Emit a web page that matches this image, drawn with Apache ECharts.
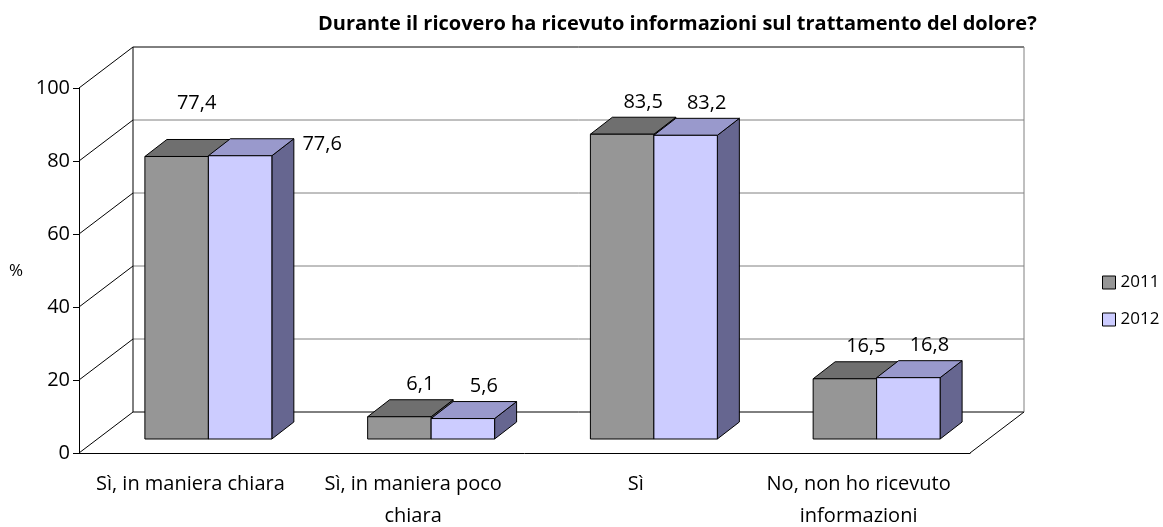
<!DOCTYPE html>
<html>
<head>
<meta charset="utf-8">
<script src="https://cdn.jsdelivr.net/npm/echarts@6/dist/echarts.min.js"></script>
<style>
  html, body { margin: 0; padding: 0; background: #fff; }
  #main { width: 1163px; height: 527px; }
</style>
</head>
<body>
<div id="main"></div>
<script>
// dati del grafico
var categories = ['Sì, in maniera chiara', 'Sì, in maniera poco\nchiara', 'Sì', 'No, non ho ricevuto\ninformazioni'];
var years = ['2011', '2012'];
var values2011 = [77.4, 6.1, 83.5, 16.5];
var values2012 = [77.6, 5.6, 83.2, 16.8];
var yTicks = [0, 20, 40, 60, 80, 100];

// prospettiva 3D (pixel)
var WALL_DX = 54, WALL_DY = 41;     // profondita' della parete di fondo
var FRONT_DX = 18, FRONT_DY = 14;   // faccia anteriore delle barre
var DEPTH_DX = 22, DEPTH_DY = 17;   // spessore delle barre
var BAR_FRAC = 0.285;
var FONT = '"Open Sans", "DejaVu Sans", sans-serif';

var colors = [
    { front: '#969696', top: '#6f6f6f', side: '#5a5a5a' },
    { front: '#ccccff', top: '#9999cc', side: '#666690' }
];
// spostamenti delle etichette come nel grafico Excel
var labelNudge = { '0-0': [9, -36], '1-0': [71, 6] };

var myChart = echarts.init(document.getElementById('main'));

function toPairs(arr) {
    return arr.map(function (v, i) { return [i, v]; });
}

function renderBar(params, api) {
    var s = params.seriesIndex;
    var cat = api.value(0), v = api.value(1);
    var base = api.coord([cat, 0]);
    var top = api.coord([cat, v]);
    var bw = api.size([1, 0])[0] * BAR_FRAC;
    var x0 = base[0] - bw + s * bw + FRONT_DX;
    var x1 = x0 + bw;
    var yb = base[1] - FRONT_DY;
    var yt = top[1] - FRONT_DY;
    var c = colors[s];
    var line = { stroke: '#000', lineWidth: 1 };
    var nudge = labelNudge[s + '-' + params.dataIndex];
    var lx = (x0 + x1) / 2 + DEPTH_DX / 2 + 10;
    var ly = yt - DEPTH_DY - 15;
    if (nudge) {
        lx = (x0 + x1) / 2 + DEPTH_DX / 2 + nudge[0];
        ly = yt - DEPTH_DY + nudge[1];
    }
    return {
        type: 'group',
        children: [{
            type: 'polygon',
            shape: { points: [[x1, yb], [x1 + DEPTH_DX, yb - DEPTH_DY], [x1 + DEPTH_DX, yt - DEPTH_DY], [x1, yt]] },
            style: Object.assign({ fill: c.side }, line)
        }, {
            type: 'polygon',
            shape: { points: [[x0, yt], [x1, yt], [x1 + DEPTH_DX, yt - DEPTH_DY], [x0 + DEPTH_DX, yt - DEPTH_DY]] },
            style: Object.assign({ fill: c.top }, line)
        }, {
            type: 'rect',
            shape: { x: x0, y: yt, width: bw, height: yb - yt },
            style: Object.assign({ fill: c.front }, line)
        }, {
            type: 'text',
            style: {
                text: String(v).replace('.', ','),
                x: lx, y: ly,
                align: 'center', verticalAlign: 'middle',
                fill: '#000', fontSize: 20, fontFamily: FONT
            }
        }]
    };
}

function renderWalls(params, api) {
    var cs = params.coordSys;
    var L = cs.x, R = cs.x + cs.width, B = cs.y + cs.height;
    var kids = [];
    yTicks.forEach(function (t) {
        var y = api.coord([0, t])[1];
        // linea della parete di fondo
        kids.push({
            type: 'line',
            shape: { x1: L + WALL_DX, y1: y - WALL_DY, x2: R + WALL_DX, y2: y - WALL_DY },
            style: { stroke: (t === 0 || t === 100) ? '#000' : '#808080', lineWidth: 1 }
        });
        // diagonale della parete sinistra
        kids.push({
            type: 'line',
            shape: { x1: L, y1: y, x2: L + WALL_DX, y2: y - WALL_DY },
            style: { stroke: '#000', lineWidth: 1 }
        });
    });
    var yTop = api.coord([0, yTicks[yTicks.length - 1]])[1];
    kids.push({
        type: 'line',
        shape: { x1: L + WALL_DX, y1: yTop - WALL_DY, x2: L + WALL_DX, y2: B - WALL_DY },
        style: { stroke: '#000', lineWidth: 1 }
    });
    kids.push({
        type: 'line',
        shape: { x1: R + WALL_DX, y1: yTop - WALL_DY, x2: R + WALL_DX, y2: B - WALL_DY },
        style: { stroke: '#808080', lineWidth: 1 }
    });
    kids.push({
        type: 'line',
        shape: { x1: R, y1: B, x2: R + WALL_DX, y2: B - WALL_DY },
        style: { stroke: '#000', lineWidth: 1 }
    });
    return { type: 'group', children: kids };
}

option = {
    backgroundColor: '#fff',
    animation: false,
    title: {
        text: 'Durante il ricovero ha ricevuto informazioni sul trattamento del dolore?',
        left: 313,
        top: 9,
        textStyle: { color: '#000', fontSize: 20, fontWeight: 'bold', fontFamily: FONT }
    },
    legend: {
        orient: 'vertical',
        left: 1097,
        top: 269,
        itemWidth: 13,
        itemHeight: 13,
        itemGap: 20,
        textStyle: { color: '#000', fontSize: 17, fontFamily: FONT },
        data: years.map(function (y, i) {
            return { name: y, icon: 'rect', itemStyle: { color: colors[i].front, borderColor: '#000', borderWidth: 1 } };
        })
    },
    graphic: [{
        type: 'text',
        left: 9,
        top: 263,
        style: { text: '%', fill: '#000', fontSize: 17, fontFamily: FONT }
    }],
    grid: { left: 79, top: 88, width: 891, height: 365, containLabel: false, outerBoundsMode: 'none' },
    xAxis: {
        type: 'category',
        data: categories,
        axisLine: { lineStyle: { color: '#000', width: 1 } },
        axisTick: { length: 6, lineStyle: { color: '#000' } },
        axisLabel: { interval: 0, color: '#000', fontSize: 20, fontFamily: FONT, lineHeight: 32, margin: 15 },
        splitLine: { show: false }
    },
    yAxis: {
        type: 'value',
        min: 0,
        max: 100,
        interval: 20,
        axisLine: { show: true, lineStyle: { color: '#000', width: 1 } },
        axisTick: { show: true, length: 6, lineStyle: { color: '#000' } },
        axisLabel: { color: '#000', fontSize: 20, fontFamily: FONT, margin: 9 },
        splitLine: { show: false }
    },
    series: [{
        name: years[0],
        type: 'custom',
        z: 3,
        renderItem: renderBar,
        itemStyle: { color: colors[0].front },
        encode: { x: 0, y: 1 },
        data: toPairs(values2011)
    }, {
        name: years[1],
        type: 'custom',
        z: 3,
        renderItem: renderBar,
        itemStyle: { color: colors[1].front },
        encode: { x: 0, y: 1 },
        data: toPairs(values2012)
    }, {
        name: 'pareti',
        type: 'custom',
        z: 1,
        silent: true,
        renderItem: renderWalls,
        encode: { x: 0, y: 1 },
        data: [[0, 0]]
    }]
};
myChart.setOption(option);
</script>
</body>
</html>
